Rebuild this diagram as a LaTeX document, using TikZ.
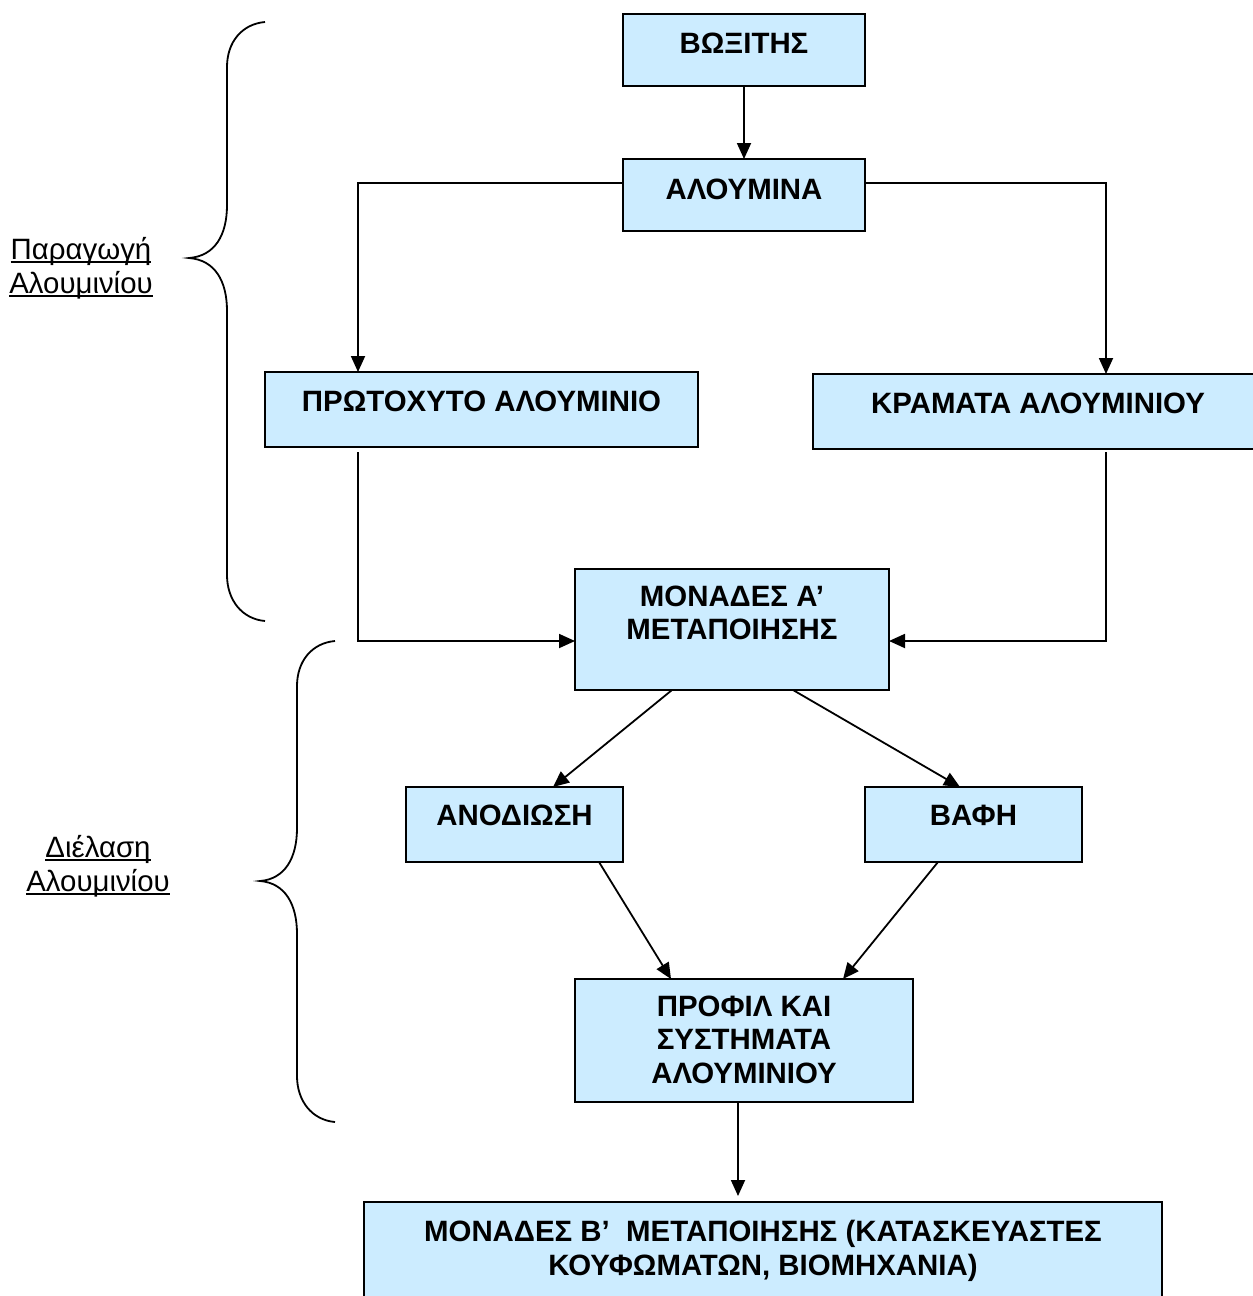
\documentclass[tikz,border=0pt]{standalone}
\usepackage{fontspec}
\setmainfont{Liberation Sans}
\usetikzlibrary{arrows.meta}
\definecolor{boxfill}{RGB}{204,236,255}
\newcommand\myul[1]{\setbox0\hbox{#1}\rlap{\rule[-3.5pt]{\wd0}{1.8pt}}\box0}
\begin{document}
\begin{tikzpicture}[x=1pt,y=-1pt,
  box/.style={draw=black, line width=1.8pt, fill=boxfill, inner sep=0pt, outer sep=0pt},
  lbl/.style={font=\fontsize{29.4}{33.5}\selectfont\bfseries, align=center, anchor=base, inner sep=0pt},
  side/.style={font=\fontsize{29.4}{33.5}\selectfont, align=center, anchor=base, inner sep=0pt},
  arr/.style={line width=1.8pt, -{Triangle[length=16pt,width=14pt]}},
  brace/.style={line width=1.8pt}]
\useasboundingbox (0,0) rectangle (1253,1296);
% boxes
\node[box, minimum width=242pt, minimum height=72pt] (bauxite) at (744,50) {};
\node[box, minimum width=242pt, minimum height=72pt] (alumina) at (744,195) {};
\node[box, minimum width=433pt, minimum height=75pt] (primary) at (481.5,409.5) {};
\node[box, minimum width=449pt, minimum height=75pt] (alloys) at (1037.5,411.5) {};
\node[box, minimum width=314pt, minimum height=121pt] (monA) at (732,629.5) {};
\node[box, minimum width=217pt, minimum height=75pt] (anod) at (514.5,824.5) {};
\node[box, minimum width=217pt, minimum height=75pt] (paint) at (973.5,824.5) {};
\node[box, minimum width=338pt, minimum height=123pt] (profil) at (744,1040.5) {};
\node[box, minimum width=798pt, minimum height=110pt] (monB) at (763,1257) {};
% texts (anchor = baseline of last line)
\node[lbl] (t1) at (744,53) {ΒΩΞΙΤΗΣ};
\node[lbl] (t2) at (744,199) {ΑΛΟΥΜΙΝΑ};
\node[lbl] (t3) at (481.5,411) {ΠΡΩΤΟΧΥΤΟ ΑΛΟΥΜΙΝΙΟ};
\node[lbl] (t4) at (1038,413) {ΚΡΑΜΑΤΑ ΑΛΟΥΜΙΝΙΟΥ};
\node[lbl] (t5) at (732,639.5) {ΜΟΝΑΔΕΣ Α’\\ΜΕΤΑΠΟΙΗΣΗΣ};
\node[lbl] (t6) at (514.5,825) {ΑΝΟΔΙΩΣΗ};
\node[lbl] (t7) at (973.5,825) {ΒΑΦΗ};
\node[lbl] (t8) at (744,1083) {ΠΡΟΦΙΛ ΚΑΙ\\ΣΥΣΤΗΜΑΤΑ\\ΑΛΟΥΜΙΝΙΟΥ};
\node[lbl] (t9) at (763,1275) {ΜΟΝΑΔΕΣ Β’\ \ ΜΕΤΑΠΟΙΗΣΗΣ (ΚΑΤΑΣΚΕΥΑΣΤΕΣ\\ΚΟΥΦΩΜΑΤΩΝ, ΒΙΟΜΗΧΑΝΙΑ)};
% side labels
\node[side] (s1) at (81,293) {\myul{Παραγωγή}\\\myul{Αλουμινίου}};
\node[side] (s2) at (98,891) {\myul{Διέλαση}\\\myul{Αλουμινίου}};
% connectors
\draw[arr] (bauxite.south) -- (alumina.north);
\draw[arr] ([yshift=12pt]alumina.west) -| ([xshift=-123.5pt]primary.north);
\draw[arr] ([yshift=12pt]alumina.east) -| ([xshift=68.5pt]alloys.north);
\draw[arr] ([xshift=-123.5pt,yshift=-5pt]primary.south) |- ([yshift=-11.5pt]monA.west);
\draw[arr] ([xshift=68.5pt,yshift=-3pt]alloys.south) |- ([yshift=-11.5pt]monA.east);
\draw[arr] ([xshift=-60pt]monA.south) -- ([xshift=38.5pt]anod.north);
\draw[arr] ([xshift=61pt]monA.south) -- ([xshift=-13.5pt]paint.north);
\draw[arr] ([xshift=84.5pt]anod.south) -- ([xshift=-73pt]profil.north);
\draw[arr] ([xshift=-35.5pt]paint.south) -- ([xshift=99pt]profil.north);
\draw[arr, shorten >=6pt] ([xshift=-6pt]profil.south) -- ([xshift=-25pt]monB.north);
% braces
\draw[brace] (265,22) .. controls (242,24) and (227,42) .. (227,67) -- (227,205)
  .. controls (227,235) and (215,256) .. (189,258)
  .. controls (215,260) and (227,281) .. (227,311) -- (227,575)
  .. controls (227,600) and (242,619) .. (265,621);
\draw[brace] (335,641) .. controls (312,643) and (297,661) .. (297,686) -- (297,828)
  .. controls (297,858) and (285,879) .. (260,881)
  .. controls (285,883) and (297,904) .. (297,934) -- (297,1076)
  .. controls (297,1101) and (312,1120) .. (335,1122);
\end{tikzpicture}
\end{document}
